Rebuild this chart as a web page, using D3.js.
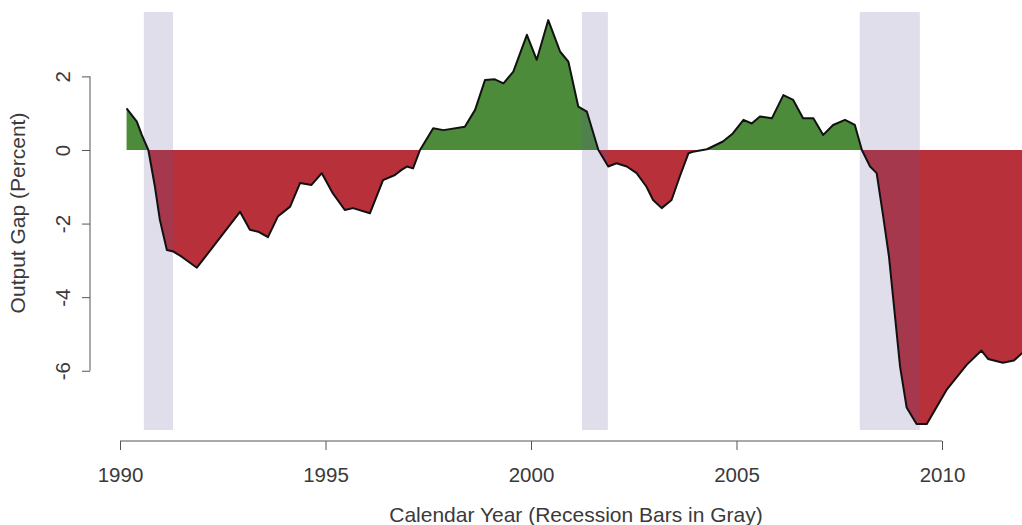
<!DOCTYPE html>
<html>
<head>
<meta charset="utf-8">
<script src="https://cdn.jsdelivr.net/npm/d3@7"></script>
<style>
  html, body { margin: 0; padding: 0; background: #ffffff; }
  svg { display: block; }
  text { font-family: "Liberation Sans", Arial, sans-serif; fill: #3a3a3a; }
</style>
</head>
<body>
<div id="chart"></div>
<script>
// ---- data ----
const years = [
  1990.16, 1990.41, 1990.53, 1990.69, 1990.85, 1990.97, 1991.14, 1991.30, 1991.50, 1991.87,
  1992.92, 1993.16, 1993.36, 1993.60, 1993.84, 1994.14, 1994.38, 1994.66, 1994.91, 1995.18,
  1995.47, 1995.67, 1996.08, 1996.40, 1996.69, 1996.85, 1996.98, 1997.13, 1997.30, 1997.62,
  1997.87, 1998.39, 1998.64, 1998.88, 1999.12, 1999.33, 1999.57, 1999.90, 2000.14, 2000.42,
  2000.71, 2000.91, 2001.15, 2001.36, 2001.64, 2001.88, 2002.08, 2002.33, 2002.57, 2002.81,
  2002.97, 2003.18, 2003.42, 2003.62, 2003.83, 2003.94, 2004.28, 2004.67, 2004.91, 2005.17,
  2005.37, 2005.57, 2005.86, 2006.14, 2006.38, 2006.62, 2006.87, 2007.11, 2007.35, 2007.64,
  2007.88, 2008.05, 2008.25, 2008.41, 2008.57, 2008.71, 2008.98, 2009.14, 2009.38, 2009.63,
  2010.11, 2010.60, 2010.96, 2011.12, 2011.48, 2011.75, 2012.02
];
const outputGap = [
   1.13,  0.77,  0.41,  0.00, -1.00, -1.90, -2.72, -2.76, -2.90, -3.20,
  -1.68, -2.17, -2.22, -2.37, -1.81, -1.54, -0.90, -0.95, -0.63, -1.18,
  -1.63, -1.58, -1.72, -0.82, -0.68, -0.54, -0.45, -0.50,  0.00,  0.59,
   0.54,  0.63,  1.09,  1.90,  1.92,  1.81,  2.13,  3.13,  2.45,  3.53,
   2.67,  2.40,  1.18,  1.04,  0.00, -0.45, -0.36, -0.45, -0.63, -1.00,
  -1.36, -1.58, -1.36, -0.72, -0.09, -0.05,  0.02,  0.23,  0.45,  0.82,
   0.72,  0.91,  0.86,  1.49,  1.36,  0.86,  0.86,  0.41,  0.68,  0.82,
   0.68,  0.00, -0.45, -0.63, -1.81, -2.90, -5.89, -7.00, -7.45, -7.45,
  -6.52, -5.84, -5.45, -5.68, -5.78, -5.72, -5.45
];
const recessionStart = [1990.58, 2001.24, 2008.00];
const recessionEnd   = [1991.29, 2001.87, 2009.46];
const xTicks = [1990, 1995, 2000, 2005, 2010];
const yTicks = [-6, -4, -2, 0, 2];
const xTitle = "Calendar Year (Recession Bars in Gray)";
const yTitle = "Output Gap (Percent)";

// ---- layout ----
const W = 1022, H = 525;
const plot = { left: 84, right: 1022, top: 12, bottom: 430 };
const x = d3.scaleLinear().domain([1990, 2010]).range([120, 942]);
const y = d3.scaleLinear().domain([-7.61, 3.75]).range([plot.bottom, plot.top]);

const svg = d3.select("#chart").append("svg").attr("width", W).attr("height", H);
const defs = svg.append("defs");

defs.append("clipPath").attr("id", "clipPlot").append("rect")
  .attr("x", plot.left).attr("y", plot.top)
  .attr("width", plot.right - plot.left).attr("height", plot.bottom - plot.top);
defs.append("clipPath").attr("id", "clipPos").append("rect")
  .attr("x", plot.left).attr("y", plot.top)
  .attr("width", plot.right - plot.left).attr("height", y(0) - plot.top);
defs.append("clipPath").attr("id", "clipNeg").append("rect")
  .attr("x", plot.left).attr("y", y(0))
  .attr("width", plot.right - plot.left).attr("height", plot.bottom - y(0));

const data = years.map((t, i) => ({ t, v: outputGap[i] }));
const area = d3.area().x(d => x(d.t)).y0(y(0)).y1(d => y(d.v));
const line = d3.line().x(d => x(d.t)).y(d => y(d.v));

const g = svg.append("g").attr("clip-path", "url(#clipPlot)");

g.append("path").datum(data).attr("d", area)
  .attr("fill", "#4b8b3a").attr("clip-path", "url(#clipPos)");
g.append("path").datum(data).attr("d", area)
  .attr("fill", "#b7303a").attr("clip-path", "url(#clipNeg)");

// recession bars
g.selectAll("rect.rec").data(recessionStart).join("rect")
  .attr("class", "rec")
  .attr("x", (d, i) => x(d))
  .attr("width", (d, i) => x(recessionEnd[i]) - x(d))
  .attr("y", plot.top)
  .attr("height", plot.bottom - plot.top)
  .attr("fill", "rgb(95,88,150)")
  .attr("fill-opacity", 0.2);

g.append("path").datum(data).attr("d", line)
  .attr("fill", "none").attr("stroke", "#111").attr("stroke-width", 2)
  .attr("stroke-linejoin", "round");

// ---- axes ----
const axisColor = "#555";
const fmt = d => String(d); // plain hyphen-minus, as in the reference
const xAxisY = 441;
const xAxis = svg.append("g").attr("transform", `translate(0,${xAxisY})`)
  .call(d3.axisBottom(x).tickValues(xTicks).tickSize(9).tickPadding(22).tickFormat(fmt));
xAxis.select(".domain").attr("stroke", axisColor).attr("d", `M${x(1990)},0H${x(2010)}`);
xAxis.selectAll(".tick line").attr("stroke", axisColor);
xAxis.selectAll(".tick text").attr("font-size", 20.5).attr("fill", "#3a3a3a")
  .attr("dy", null).attr("y", 41);

const yAxisX = 90;
const yAxis = svg.append("g").attr("transform", `translate(${yAxisX},0)`)
  .call(d3.axisLeft(y).tickValues(yTicks).tickSize(8).tickFormat(fmt));
yAxis.select(".domain").attr("stroke", axisColor).attr("d", `M0,${y(-6)}V${y(2)}`);
yAxis.selectAll(".tick line").attr("stroke", axisColor);
yAxis.selectAll(".tick text")
  .attr("font-size", 20.5).attr("fill", "#3a3a3a")
  .attr("x", null).attr("dy", null)
  .attr("text-anchor", "middle")
  .attr("transform", "translate(-20,0) rotate(-90)");

// ---- titles ----
svg.append("text").attr("x", 576).attr("y", 522)
  .attr("text-anchor", "middle").attr("font-size", 21).text(xTitle);
svg.append("text")
  .attr("transform", "translate(25,213) rotate(-90)")
  .attr("text-anchor", "middle").attr("font-size", 21).text(yTitle);
</script>
</body>
</html>
